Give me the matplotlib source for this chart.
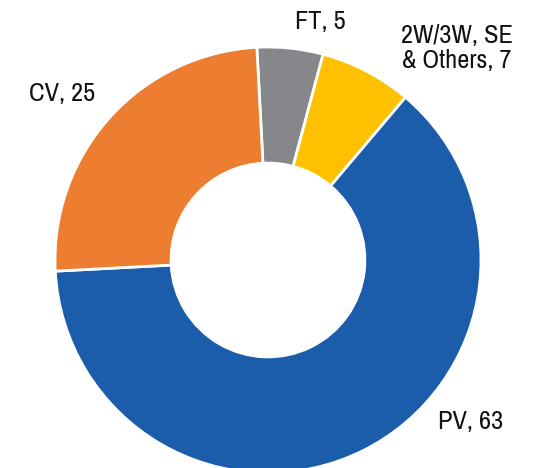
import matplotlib
matplotlib.use("Agg")
import matplotlib.pyplot as plt

categories = ["FT", "2W/3W, SE\n& Others", "PV", "CV"]
values = [5, 7, 63, 25]
colors = ["#86878A", "#FFC000", "#1B5CAB", "#ED7D31"]

plt.rcParams['font.family'] = ['Archivo Narrow', 'Liberation Sans', 'DejaVu Sans']

W, H = 541, 468
fig = plt.figure(figsize=(W / 100, H / 100), dpi=100)
cx, cy, R = 268, 208, 213
ax = fig.add_axes([(cx - R) / W, (cy - R) / H, 2 * R / W, 2 * R / H])
ax.pie(values, colors=colors, startangle=93, counterclock=False, radius=1.0,
       wedgeprops=dict(width=0.545, edgecolor="white", linewidth=2))
ax.set_xlim(-1, 1)
ax.set_ylim(-1, 1)
ax.set_aspect("equal")
ax.axis("off")

label_px = [(320, 21), (457, 48), (471, 421), (62, 93)]
for cat, val, (px, py) in zip(categories, values, label_px):
    x = (px - 268) / R
    y = (260 - py) / R
    ax.text(x, y, f"{cat}, {val}", ha="center", va="center", fontsize=19,
            linespacing=1.12, color="#111111", clip_on=False)

fig.savefig("out.png", dpi=100)
